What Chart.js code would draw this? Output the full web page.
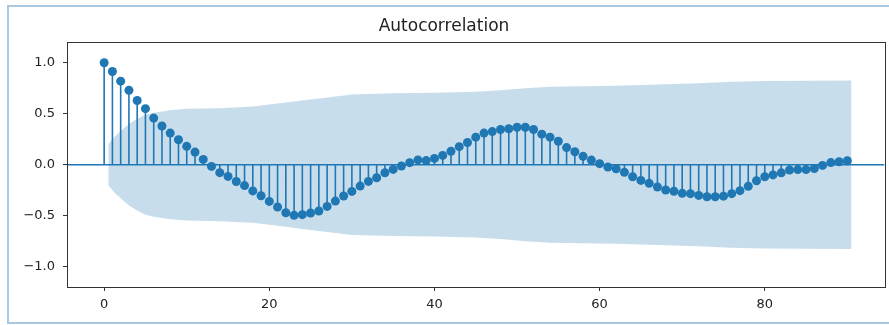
<!DOCTYPE html>
<html>
<head>
<meta charset="utf-8">
<script src="https://cdn.jsdelivr.net/npm/chart.js@4.4.1/dist/chart.umd.min.js"></script>
<style>
  html, body { margin: 0; padding: 0; background: #fff; }
  #wrap { position: relative; width: 889px; height: 325px; }
  #frame {
    position: absolute; left: 7px; top: 5px; width: 884px; height: 315px;
    border: 2px solid #a9c9e2; pointer-events: none;
  }
</style>
</head>
<body>
<div id="wrap">
  <canvas id="chart" width="889" height="325"></canvas>
  <div id="frame"></div>
</div>
<script>
// lags 0..90 and their autocorrelation
const lags = [];
for (let k = 0; k <= 90; k++) lags.push(k);

const acf = [
  1.0, 0.915, 0.82, 0.73, 0.63, 0.55, 0.457, 0.38, 0.31, 0.245,
  0.18, 0.124, 0.052, -0.017, -0.078, -0.115, -0.165, -0.205, -0.257, -0.305,
  -0.36, -0.415, -0.472, -0.497, -0.49, -0.474, -0.454, -0.409, -0.357, -0.307,
  -0.262, -0.21, -0.164, -0.128, -0.079, -0.046, -0.013, 0.02, 0.047, 0.04,
  0.062, 0.091, 0.132, 0.177, 0.218, 0.27, 0.31, 0.325, 0.345, 0.353,
  0.367, 0.367, 0.345, 0.30, 0.27, 0.23, 0.168, 0.127, 0.082, 0.045,
  0.01, -0.023, -0.04, -0.075, -0.118, -0.154, -0.183, -0.219, -0.248, -0.26,
  -0.281, -0.284, -0.301, -0.314, -0.314, -0.309, -0.284, -0.255, -0.212, -0.157,
  -0.118, -0.1, -0.08, -0.052, -0.048, -0.048, -0.037, -0.007, 0.021, 0.029,
  0.039
];

// confidence band (half width), read at a few lags
const bandLags = [0.5, 1.2, 2, 3, 4, 5, 6, 8, 10, 14, 18, 20, 22, 24, 27, 30, 35, 40, 45, 48, 51, 54, 58, 62, 68, 72, 76, 80, 90.5];
const bandWidth = [0.2, 0.27, 0.33, 0.40, 0.45, 0.49, 0.51, 0.535, 0.548, 0.555, 0.57, 0.59, 0.61, 0.63, 0.66, 0.69, 0.70, 0.705, 0.715, 0.73, 0.75, 0.765, 0.77, 0.775, 0.79, 0.80, 0.815, 0.822, 0.826];

const xTicks = [0, 20, 40, 60, 80];
const yTicks = [-1.0, -0.5, 0.0, 0.5, 1.0];
const xRange = [-4.5, 94.5];
const yRange = [-1.2, 1.2];

const blue = '#1f77b4';

const stems = [];
lags.forEach((k, i) => {
    stems.push({x: k, y: 0});
    stems.push({x: k, y: acf[i]});
    stems.push({x: k, y: null});
});

const frameBox = {
    id: 'frameBox',
    afterDraw(chart) {
        const a = chart.chartArea;
        const c = chart.ctx;
        c.save();
        c.strokeStyle = '#333';
        c.lineWidth = 1;
        c.strokeRect(Math.round(a.left) + 0.5, Math.round(a.top) + 0.5,
            Math.round(a.right - a.left), Math.round(a.bottom - a.top));
        c.restore();
    }
};

const minus = v => v.toFixed(1).replace('-', '\u2212');

const ctx = document.getElementById('chart').getContext('2d');
new Chart(ctx, {
    type: 'line',
    data: {
        datasets: [
            {
                label: 'zero',
                data: xRange.map(x => ({x: x, y: 0})),
                borderColor: blue,
                borderWidth: 1.5,
                pointRadius: 0,
                order: 1
            },
            {
                label: 'acf',
                data: lags.map((k, i) => ({x: k, y: acf[i]})),
                showLine: false,
                pointRadius: 4.5,
                pointBackgroundColor: blue,
                pointBorderWidth: 0,
                order: 2
            },
            {
                label: 'stems',
                data: stems,
                borderColor: blue,
                borderWidth: 1.6,
                pointRadius: 0,
                spanGaps: false,
                order: 3
            },
            {
                label: 'upper',
                data: bandLags.map((x, i) => ({x: x, y: bandWidth[i]})),
                borderWidth: 0,
                pointRadius: 0,
                fill: false,
                order: 4
            },
            {
                label: 'lower',
                data: bandLags.map((x, i) => ({x: x, y: -bandWidth[i]})),
                borderWidth: 0,
                pointRadius: 0,
                fill: '-1',
                backgroundColor: 'rgba(31, 119, 180, 0.25)',
                order: 4
            }
        ]
    },
    options: {
        responsive: false,
        animation: false,
        layout: { padding: { left: 0, right: 1, top: 0, bottom: 0 } },
        plugins: {
            legend: { display: false },
            tooltip: { enabled: false },
            title: {
                display: true,
                text: 'Autocorrelation',
                color: '#222',
                font: { family: 'DejaVu Sans', size: 17, weight: 'normal' },
                padding: { top: 16, bottom: 6 }
            }
        },
        scales: {
            x: {
                type: 'linear',
                min: xRange[0],
                max: xRange[1],
                afterBuildTicks: s => { s.ticks = xTicks.map(v => ({value: v})); },
                afterFit: s => { s.height = 38; },
                border: { display: false },
                grid: { display: true, drawOnChartArea: false, drawTicks: true, tickLength: 4, color: '#333' },
                ticks: {
                    color: '#222',
                    padding: 6,
                    maxRotation: 0,
                    font: { family: 'DejaVu Sans', size: 13 },
                    callback: v => String(v)
                }
            },
            y: {
                type: 'linear',
                min: yRange[0],
                max: yRange[1],
                afterBuildTicks: s => { s.ticks = yTicks.map(v => ({value: v})); },
                afterFit: s => { s.width = 67; },
                border: { display: false },
                grid: { display: true, drawOnChartArea: false, drawTicks: true, tickLength: 4, color: '#333' },
                ticks: {
                    color: '#222',
                    padding: 8,
                    font: { family: 'DejaVu Sans', size: 13 },
                    callback: v => minus(v)
                }
            }
        }
    },
    plugins: [frameBox]
});
</script>
</body>
</html>
